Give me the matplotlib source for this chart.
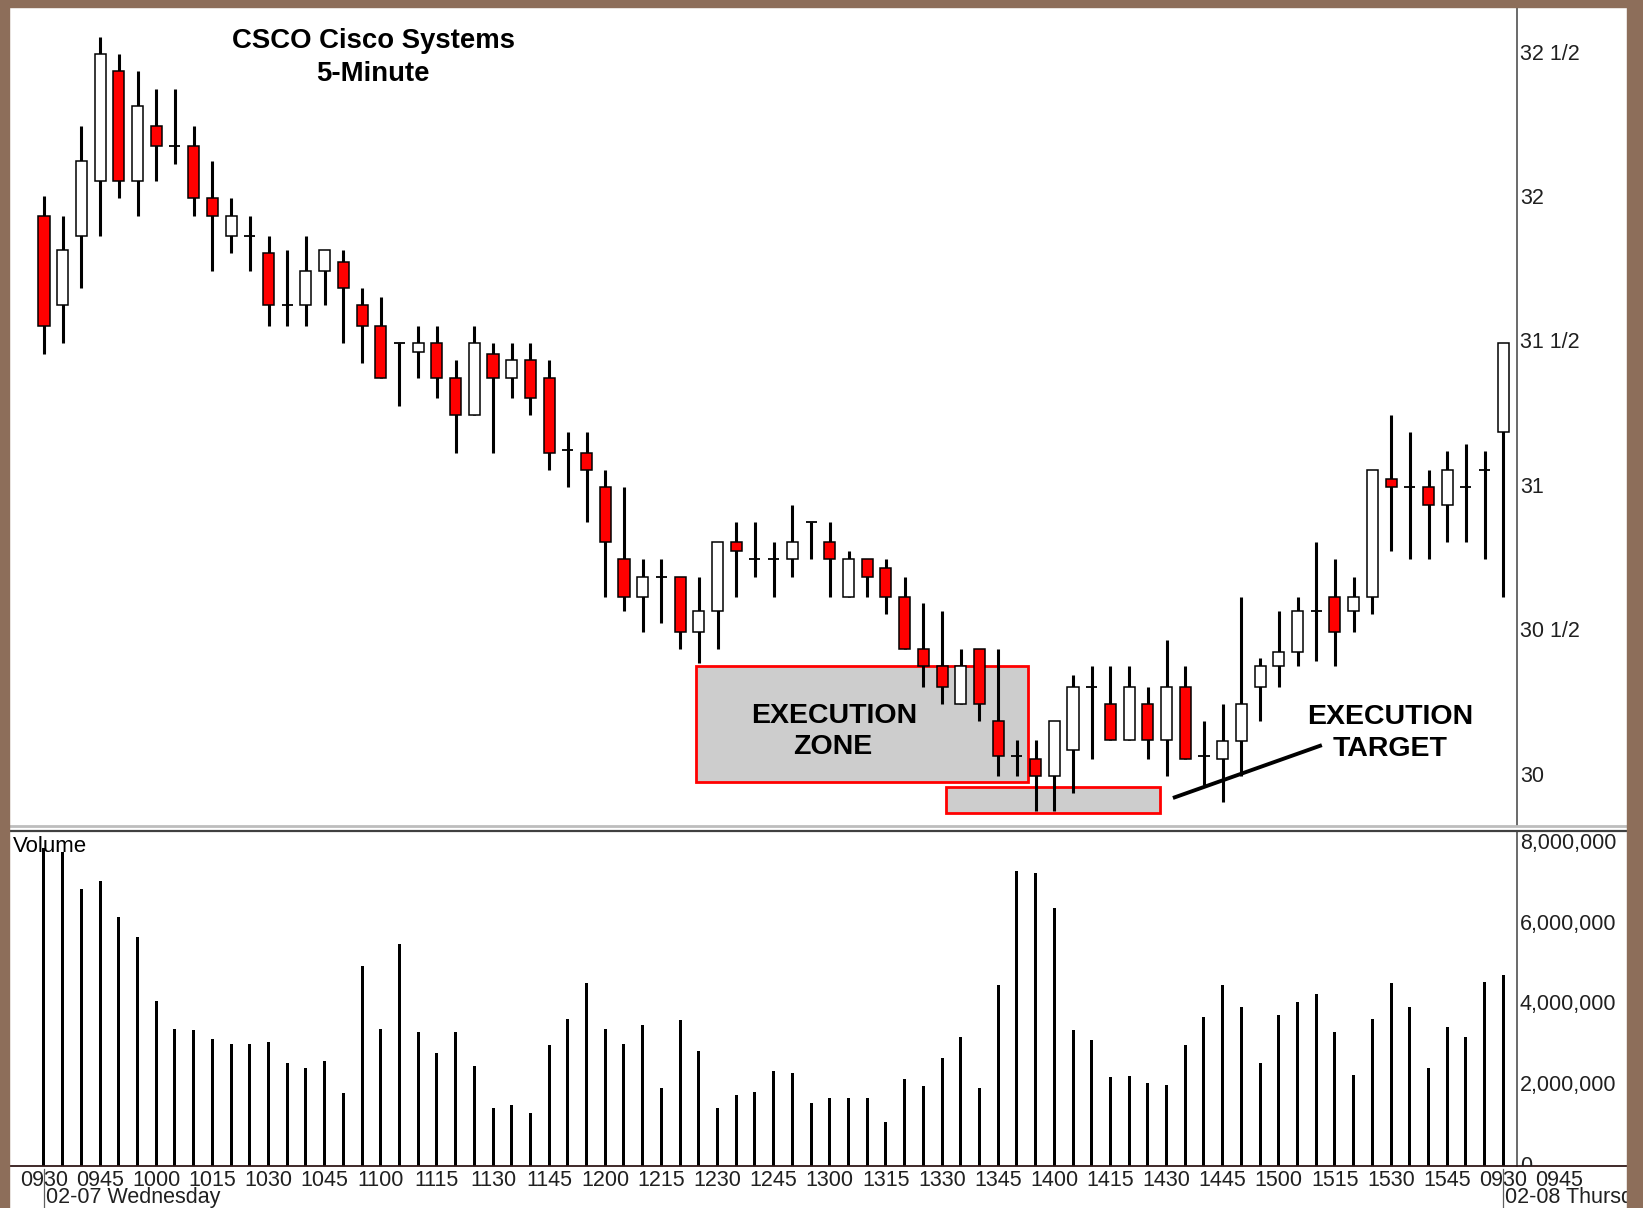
import matplotlib
matplotlib.use('Agg')
import matplotlib.pyplot as plt
from matplotlib.patches import Rectangle
from matplotlib.lines import Line2D
from matplotlib.transforms import blended_transform_factory, Bbox, TransformedBbox, offset_copy

plt.rcParams['font.family'] = ['Liberation Sans', 'DejaVu Sans']

# ---------------- data ----------------
opens = [31.94, 31.63, 31.87, 32.06, 32.44, 32.06, 32.25, 32.18, 32.18, 32.00,
         31.87, 31.87, 31.81, 31.63, 31.63, 31.75, 31.78, 31.63, 31.56, 31.50,
         31.47, 31.50, 31.38, 31.25, 31.46, 31.38, 31.44, 31.38, 31.13, 31.12,
         31.00, 30.75, 30.62, 30.69, 30.69, 30.50, 30.57, 30.81, 30.75, 30.75,
         30.75, 30.88, 30.81, 30.62, 30.75, 30.72, 30.62, 30.44, 30.38, 30.25,
         30.44, 30.19, 30.07, 30.06, 30.00, 30.09, 30.31, 30.25, 30.125, 30.25,
         30.125, 30.31, 30.07, 30.06, 30.12, 30.31, 30.38, 30.43, 30.57, 30.62,
         30.57, 30.62, 31.03, 31.00, 31.00, 30.94, 31.00, 31.06, 31.19]
highs = [32.01, 31.94, 32.25, 32.56, 32.50, 32.44, 32.38, 32.38, 32.25, 32.13,
         32.00, 31.94, 31.87, 31.82, 31.87, 31.82, 31.82, 31.69, 31.66, 31.50,
         31.56, 31.56, 31.44, 31.56, 31.50, 31.50, 31.50, 31.44, 31.19, 31.19,
         31.06, 31.00, 30.75, 30.75, 30.69, 30.69, 30.81, 30.88, 30.88, 30.81,
         30.94, 30.88, 30.88, 30.78, 30.75, 30.75, 30.69, 30.60, 30.57, 30.44,
         30.44, 30.44, 30.125, 30.125, 30.19, 30.35, 30.38, 30.38, 30.38, 30.31,
         30.47, 30.38, 30.19, 30.25, 30.62, 30.41, 30.57, 30.62, 30.81, 30.75,
         30.69, 31.06, 31.25, 31.19, 31.06, 31.125, 31.15, 31.125, 31.50]
lows = [31.46, 31.50, 31.69, 31.87, 32.00, 31.94, 32.06, 32.12, 31.94, 31.75,
        31.81, 31.75, 31.56, 31.56, 31.56, 31.63, 31.50, 31.43, 31.38, 31.28,
        31.38, 31.31, 31.12, 31.25, 31.12, 31.31, 31.25, 31.06, 31.00, 30.88,
        30.62, 30.57, 30.50, 30.53, 30.44, 30.39, 30.44, 30.62, 30.69, 30.62,
        30.69, 30.75, 30.62, 30.62, 30.62, 30.56, 30.44, 30.31, 30.25, 30.25,
        30.19, 30.00, 30.00, 29.88, 29.88, 29.94, 30.06, 30.125, 30.125, 30.06,
        30.00, 30.06, 29.97, 29.91, 30.00, 30.19, 30.31, 30.38, 30.40, 30.38,
        30.50, 30.56, 30.78, 30.75, 30.75, 30.81, 30.81, 30.75, 30.62]
closes = [31.56, 31.82, 32.13, 32.50, 32.06, 32.32, 32.18, 32.18, 32.00, 31.94,
          31.94, 31.87, 31.63, 31.63, 31.75, 31.82, 31.69, 31.56, 31.38, 31.50,
          31.50, 31.38, 31.25, 31.50, 31.38, 31.44, 31.31, 31.12, 31.13, 31.06,
          30.81, 30.62, 30.69, 30.69, 30.50, 30.57, 30.81, 30.78, 30.75, 30.75,
          30.81, 30.88, 30.75, 30.75, 30.69, 30.62, 30.44, 30.38, 30.31, 30.38,
          30.25, 30.07, 30.07, 30.00, 30.19, 30.31, 30.31, 30.125, 30.31, 30.125,
          30.31, 30.06, 30.07, 30.12, 30.25, 30.38, 30.43, 30.57, 30.57, 30.50,
          30.62, 31.06, 31.00, 31.00, 30.94, 31.06, 31.00, 31.06, 31.50]
volume_millions = [7.90, 7.80, 6.89, 7.07, 6.19, 5.68, 4.09, 3.41, 3.37, 3.16,
                   3.04, 3.04, 3.08, 2.57, 2.44, 2.61, 1.81, 4.97, 3.41, 5.51,
                   3.33, 2.81, 3.33, 2.49, 1.44, 1.52, 1.32, 3.00, 3.66, 4.54,
                   3.41, 3.04, 3.50, 1.93, 3.62, 2.86, 1.44, 1.77, 1.85, 2.36,
                   2.31, 1.56, 1.69, 1.69, 1.69, 1.10, 2.15, 1.98, 2.69, 3.20,
                   1.93, 4.50, 7.32, 7.28, 6.40, 3.37, 3.12, 2.20, 2.23, 2.07,
                   2.02, 3.00, 3.70, 4.50, 3.95, 2.57, 3.74, 4.08, 4.26, 3.33,
                   2.27, 3.66, 4.54, 3.95, 2.44, 3.45, 3.20, 4.58, 4.75]

time_labels = ["0930", "0945", "1000", "1015", "1030", "1045", "1100", "1115",
               "1130", "1145", "1200", "1215", "1230", "1245", "1300", "1315",
               "1330", "1345", "1400", "1415", "1430", "1445", "1500", "1515",
               "1530", "1545", "0930", "0945"]
time_label_bars = [0, 3, 6, 9, 12, 15, 18, 21, 24, 27, 30, 33, 36, 39, 42, 45,
                   48, 51, 54, 57, 60, 63, 66, 69, 72, 75, 78, 81]
date_labels = ["02-07 Wednesday", "02-08 Thursday"]
date_label_bars = [0, 78]

price_ticks = [30.0, 30.5, 31.0, 31.5, 32.0, 32.5]
price_tick_labels = ["30", "30 1/2", "31", "31 1/2", "32", "32 1/2"]
volume_ticks = [0, 2e6, 4e6, 6e6, 8e6]
volume_tick_labels = ["0", "2,000,000", "4,000,000", "6,000,000", "8,000,000"]

# annotation regions (bar index / price)
zone_x = [34.85, 52.6]
zone_y = [29.98, 30.38]
target_x = [48.2, 59.65]
target_y = [29.872, 29.962]
arrow_x = [60.34, 68.3]
arrow_y = [29.924, 30.107]

# ---------------- figure ----------------
W, H = 1643, 1208
fig = plt.figure(figsize=(W / 100, H / 100), dpi=100, facecolor='white')


def fx(px):
    return px / W


def fy(py):
    return 1 - py / H


ax_p = fig.add_axes([fx(9), fy(826), fx(1517) - fx(9), fy(7) - fy(826)])
ax_v = fig.add_axes([fx(9), fy(1166), fx(1517) - fx(9), fy(831) - fy(1166)])

for ax in (ax_p, ax_v):
    ax.set_xlim(-1.87, 78.73)
    ax.set_xticks([])
    ax.set_yticks([])
    for s in ('left', 'top', 'bottom'):
        ax.spines[s].set_visible(False)
    ax.spines['right'].set_color('#505050')
    ax.spines['right'].set_linewidth(1.2)
    ax.set_facecolor('white')

ax_p.set_ylim(29.827, 32.663)
ax_v.set_ylim(0, 8.32e6)

n = len(opens)
body_w = 0.59
for i in range(n):
    o, h, l, c = opens[i], highs[i], lows[i], closes[i]
    ax_p.vlines(i, l, h, color='black', lw=2.2, zorder=3)
    if abs(o - c) < 1e-9:
        ax_p.hlines(o, i - body_w / 2, i + body_w / 2, color='black', lw=1.3, zorder=4)
    else:
        fc = '#FF0000' if c < o else 'white'
        ax_p.add_patch(Rectangle((i - body_w / 2, min(o, c)), body_w, abs(c - o),
                                 facecolor=fc, edgecolor='black', lw=1.1, zorder=4))

# execution zone & target boxes
ax_p.add_patch(Rectangle((zone_x[0], zone_y[0]), zone_x[1] - zone_x[0], zone_y[1] - zone_y[0],
                         facecolor='#cdcdcd', edgecolor='#FF0000', lw=2.0, zorder=1))
ax_p.add_patch(Rectangle((target_x[0], target_y[0]), target_x[1] - target_x[0], target_y[1] - target_y[0],
                         facecolor='#cdcdcd', edgecolor='#FF0000', lw=2.0, zorder=1))
ax_p.plot(arrow_x, arrow_y, color='black', lw=2.8, zorder=5, solid_capstyle='butt')

ax_p.text(42.25, 30.208, "EXECUTION", ha='center', va='center', fontsize=20.5, fontweight='bold', zorder=6)
ax_p.text(42.15, 30.100, "ZONE", ha='center', va='center', fontsize=20.5, fontweight='bold', zorder=6)
ax_p.text(71.94, 30.204, "EXECUTION", ha='center', va='center', fontsize=20.5, fontweight='bold', zorder=6)
ax_p.text(71.94, 30.093, "TARGET", ha='center', va='center', fontsize=20.5, fontweight='bold', zorder=6)

# title
fig.text(fx(373), fy(41.5), "CSCO Cisco Systems", ha='center', va='center', fontsize=19.8, fontweight='bold')
fig.text(fx(373), fy(74), "5-Minute", ha='center', va='center', fontsize=19.8, fontweight='bold')

# volume
ax_v.bar(range(n), [v * 1e6 for v in volume_millions], width=0.16, color='black', zorder=3)
fig.text(fx(13), fy(846), "Volume", ha='left', va='center', fontsize=16, zorder=0.5)

# price tick labels
tp = blended_transform_factory(fig.transFigure, ax_p.transData)
for p, lab in zip(price_ticks, price_tick_labels):
    fig.text(fx(1520), p, lab, transform=tp, ha='left', va='center', fontsize=15.5, color='#202020')

tv = blended_transform_factory(fig.transFigure, ax_v.transData)
clipbox = TransformedBbox(Bbox([[fx(1500), fy(1166)], [1.0, 1.0]]), fig.transFigure)
for v, lab in zip(volume_ticks, volume_tick_labels):
    t = fig.text(fx(1520), v, lab, transform=tv, ha='left', va='center', fontsize=15.5, color='#202020')
    t.set_clip_box(clipbox)
    t.set_clip_on(True)

# x tick labels
tx = blended_transform_factory(ax_v.transData, fig.transFigure)
for b, lab in zip(time_label_bars, time_labels):
    fig.text(b, fy(1180), lab, transform=tx, ha='center', va='center', fontsize=15.5, color='#202020', zorder=2)

tx_off = offset_copy(tx, fig=fig, x=2, y=0, units='dots')
for b, lab in zip(date_label_bars, date_labels):
    fig.text(b, fy(1198), lab, transform=tx_off, ha='left', va='center', fontsize=15.5, color='#202020', zorder=2)
    fig.add_artist(Line2D([b, b], [fy(1169), fy(1208)], transform=tx, color='#606060', lw=0.9, zorder=2))

# separators / baseline
fig.add_artist(Line2D([fx(9), fx(1627)], [fy(825.5), fy(825.5)], color='#bdbdbd', lw=2.0, zorder=2))
fig.add_artist(Line2D([fx(9), fx(1627)], [fy(830.5), fy(830.5)], color='#404040', lw=1.6, zorder=2))
fig.add_artist(Line2D([fx(9), fx(1627)], [fy(1166), fy(1166)], color='#301818', lw=1.3, zorder=2))

# brown frame
brown = '#8D6E5A'
fig.add_artist(Rectangle((0, 0), fx(9), 1, transform=fig.transFigure, color=brown, zorder=20))
fig.add_artist(Rectangle((0, fy(7)), 1, 1 - fy(7), transform=fig.transFigure, color=brown, zorder=20))
fig.add_artist(Rectangle((fx(1627), 0), 1 - fx(1627), 1, transform=fig.transFigure, color=brown, zorder=20))

fig.savefig('out.png', dpi=100, facecolor='white')
